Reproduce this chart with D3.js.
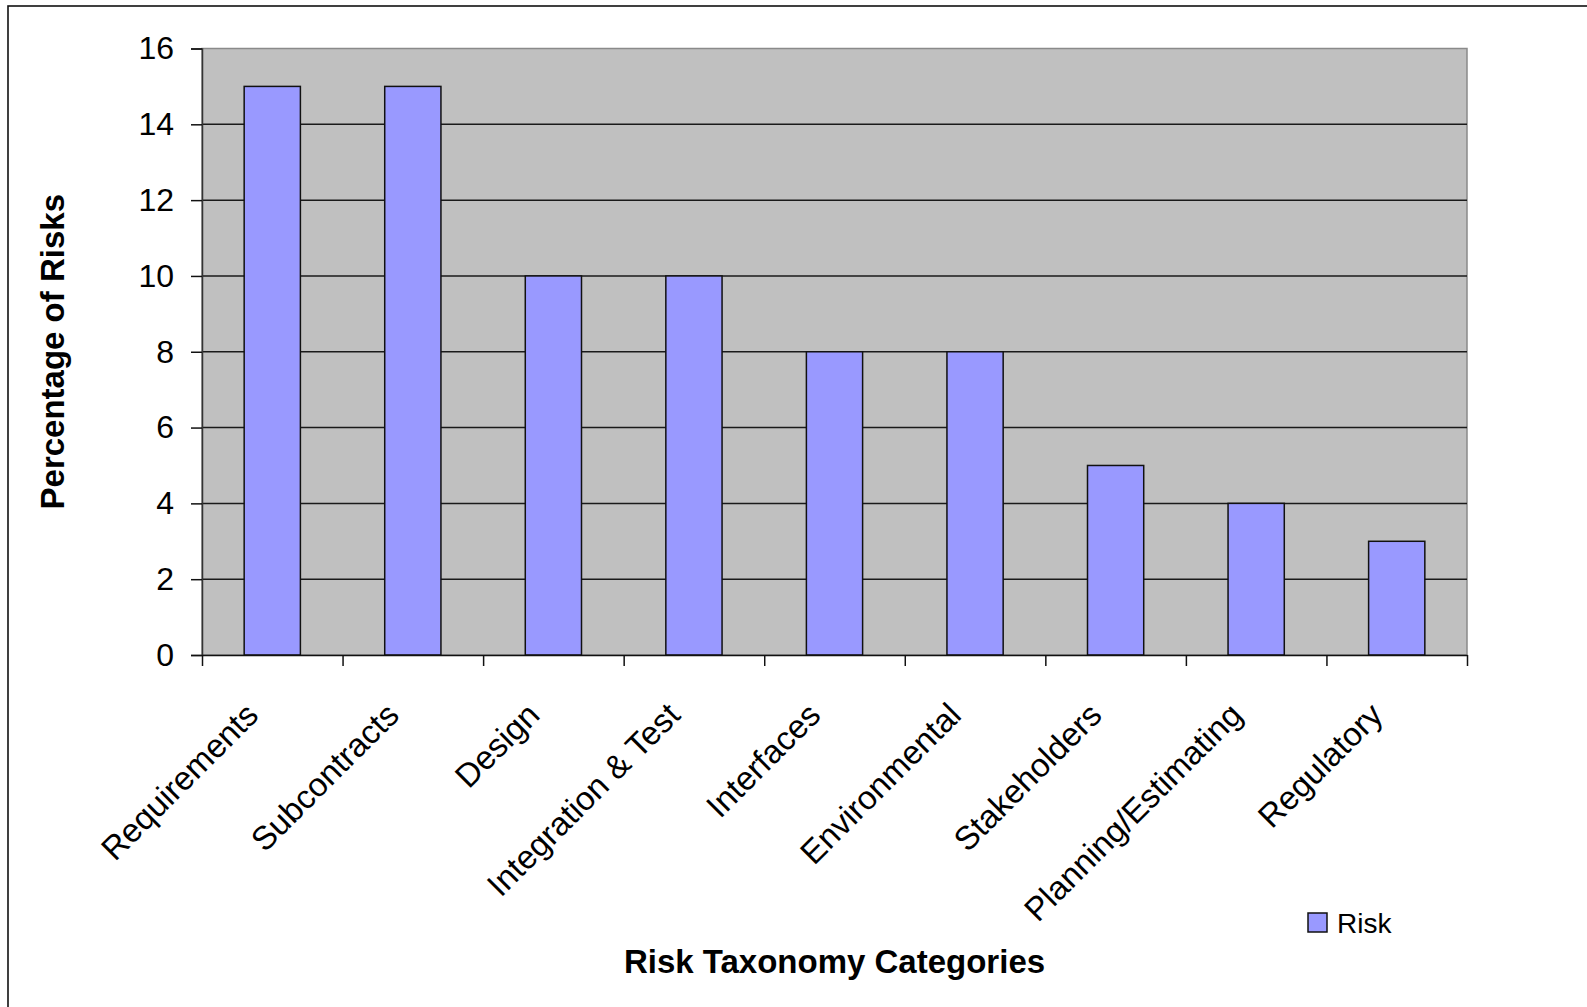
<!DOCTYPE html>
<html>
<head>
<meta charset="utf-8">
<script src="https://cdn.jsdelivr.net/npm/d3@7"></script>
<style>
  body { margin: 0; background: #fff; }
  text { font-family: "Liberation Sans", Arial, sans-serif; fill: #000; }
  .axisTitle { font-weight: bold; font-size: 33px; }
</style>
</head>
<body>
<div id="chart"></div>
<script>
// chart data

var categories = ["Requirements", "Subcontracts", "Design", "Integration & Test", "Interfaces",
  "Environmental", "Stakeholders", "Planning/Estimating", "Regulatory"];
var riskValues = [15, 15, 10, 10, 8, 8, 5, 4, 3];
var yTickValues = [0, 2, 4, 6, 8, 10, 12, 14, 16];
var seriesName = "Risk";

// set svg and dimensions of chart

var svgWidth = 1587;
var svgHeight = 1007;

let chartMargin = {
  top: 48.5,
  right: 120,
  bottom: 352,
  left: 202
};

let width = svgWidth - chartMargin.left - chartMargin.right;
let height = svgHeight - chartMargin.top - chartMargin.bottom;

let svg = d3.select("#chart")
  .append("svg")
  .attr("width", svgWidth)
  .attr("height", svgHeight);

// outer frame (only top and left edges fall inside the picture)
svg.append("rect")
  .attr("x", 8)
  .attr("y", 6)
  .attr("width", svgWidth + 20)
  .attr("height", svgHeight + 20)
  .attr("fill", "none")
  .attr("stroke", "#111")
  .attr("stroke-width", 1.6);

let chartGroup = svg.append("g")
  .attr("transform", `translate(${chartMargin.left}, ${chartMargin.top})`);

// scales

let xBandScale = d3.scaleBand()
  .domain(categories)
  .range([0, width])
  .paddingInner(0.6)
  .paddingOuter(0.3);

// category boundaries for the x tick marks
let xEdgeScale = d3.scaleLinear()
  .domain([0, categories.length])
  .range([0, width]);

let yLinearScale = d3.scaleLinear()
  .domain([0, 16])
  .range([height, 0]);

// plot area background
chartGroup.append("rect")
  .attr("width", width)
  .attr("height", height)
  .attr("fill", "#C0C0C0")
  .attr("stroke", "#8a8a8a")
  .attr("stroke-width", 1.5);

// gridlines
chartGroup.append("g")
  .selectAll("line")
  .data(yTickValues.filter(d => d > 0 && d < 16))
  .enter()
  .append("line")
  .attr("x1", 0)
  .attr("x2", width)
  .attr("y1", d => yLinearScale(d))
  .attr("y2", d => yLinearScale(d))
  .attr("stroke", "#1a1a1a")
  .attr("stroke-width", 1.5);

// bars
chartGroup.selectAll(".bar")
  .data(riskValues)
  .enter()
  .append("rect")
  .attr("class", "bar")
  .attr("x", (d, i) => xBandScale(categories[i]))
  .attr("y", d => yLinearScale(d))
  .attr("width", xBandScale.bandwidth())
  .attr("height", d => height - yLinearScale(d))
  .attr("fill", "#9999FF")
  .attr("stroke", "#111")
  .attr("stroke-width", 1.5);

// y axis
let yAxis = d3.axisLeft(yLinearScale)
  .tickValues(yTickValues)
  .tickSize(11)
  .tickPadding(17);

let yAxisGroup = chartGroup.append("g").call(yAxis);
yAxisGroup.select(".domain").attr("stroke", "#333").attr("stroke-width", 1.5);
yAxisGroup.selectAll(".tick line").attr("stroke", "#111").attr("stroke-width", 1.5);
yAxisGroup.selectAll(".tick text")
  .style("font-family", "'Liberation Sans', Arial, sans-serif")
  .style("font-size", "32px")
  .attr("fill", "#000");

// x axis (ticks at category edges)
let xAxis = d3.axisBottom(xEdgeScale)
  .tickValues(d3.range(categories.length + 1))
  .tickSize(11)
  .tickSizeOuter(0)
  .tickFormat("");

let xAxisGroup = chartGroup.append("g")
  .attr("transform", `translate(0, ${height})`)
  .call(xAxis);
xAxisGroup.select(".domain").attr("stroke", "#111").attr("stroke-width", 1.5);
xAxisGroup.selectAll(".tick line").attr("stroke", "#111").attr("stroke-width", 1.5);

// rotated category labels
chartGroup.append("g")
  .selectAll("text")
  .data(categories)
  .enter()
  .append("text")
  .attr("transform", d => `translate(${xBandScale(d) + xBandScale.bandwidth() / 2 - 12}, ${height + 62}) rotate(-45)`)
  .attr("text-anchor", "end")
  .style("font-size", "33px")
  .text(d => d);

// axis titles
chartGroup.append("text")
  .attr("class", "axisTitle")
  .attr("transform", `translate(${64 - chartMargin.left}, ${height / 2}) rotate(-90)`)
  .attr("text-anchor", "middle")
  .text("Percentage of Risks");

chartGroup.append("text")
  .attr("class", "axisTitle")
  .attr("x", width / 2)
  .attr("y", 973 - chartMargin.top)
  .attr("text-anchor", "middle")
  .text("Risk Taxonomy Categories");

// legend
let legend = svg.append("g")
  .attr("transform", "translate(1308, 913)");

legend.append("rect")
  .attr("width", 19)
  .attr("height", 19)
  .attr("fill", "#9999FF")
  .attr("stroke", "#111")
  .attr("stroke-width", 1.5);

legend.append("text")
  .attr("x", 29)
  .attr("y", 20)
  .style("font-size", "28px")
  .text(seriesName);
</script>
</body>
</html>
